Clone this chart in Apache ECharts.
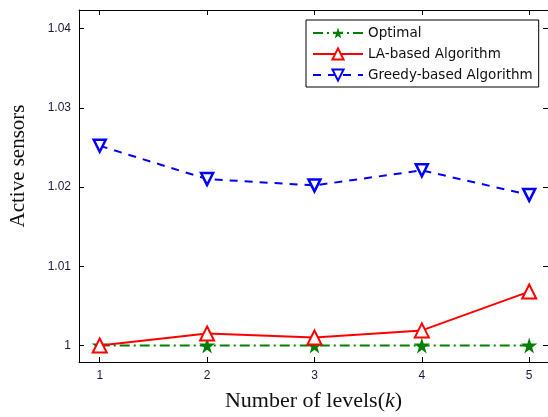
<!DOCTYPE html>
<html>
<head>
<meta charset="utf-8">
<script src="https://cdn.jsdelivr.net/npm/echarts@6/dist/echarts.min.js"></script>
<style>
  html, body { margin: 0; padding: 0; background: #fff; }
  #main { width: 548px; height: 417px; }
</style>
</head>
<body>
<div id="main"></div>
<script>
// levels k
var levels = [1, 2, 3, 4, 5];
var optimal = [1, 1, 1, 1, 1];
var laBased = [1.0, 1.0015, 1.001, 1.0019, 1.0068];
var greedyBased = [1.0252, 1.021, 1.0202, 1.0221, 1.019];
var yTicks = [1, 1.01, 1.02, 1.03, 1.04];
var yTickLabels = ['1', '1.01', '1.02', '1.03', '1.04'];

var starPath = 'path://M50,0 L61,35 L98,35 L68,57 L79,91 L50,70 L21,91 L32,57 L2,35 L39,35 Z';

function pairs(ys) {
  return levels.map(function (x, i) { return [x, ys[i]]; });
}

var chart = echarts.init(document.getElementById('main'));

var xMin = 0.807, xMax = 5.175;
var yMin = 0.99791, yMax = 1.04234;

var option = {
  backgroundColor: '#fff',
  animation: false,
  grid: { left: 73, right: 0, top: 10, bottom: 46 },
  legend: {
    orient: 'vertical',
    left: 306,
    top: 20,
    itemWidth: 50,
    itemHeight: 14,
    itemGap: 7,
    padding: [6, 6, 5, 6],
    borderColor: '#000',
    borderWidth: 1,
    backgroundColor: '#fff',
    textStyle: { fontFamily: 'DejaVu Sans', fontSize: 13.5, color: '#111' },
    data: ['Optimal', 'LA-based Algorithm', 'Greedy-based Algorithm']
  },
  xAxis: [{
    type: 'value',
    min: xMin, max: xMax,
    name: 'Number of levels({k|k})',
    nameLocation: 'middle',
    nameGap: 28,
    nameTextStyle: {
      fontFamily: 'Liberation Serif', fontSize: 22, color: '#111',
      rich: { k: { fontFamily: 'Liberation Serif', fontStyle: 'italic', fontSize: 22, color: '#111' } }
    },
    axisLine: { lineStyle: { color: '#000', width: 1 } },
    axisTick: { inside: true, length: 5, customValues: levels, lineStyle: { color: '#000' } },
    axisLabel: { customValues: levels, fontFamily: 'Liberation Sans', fontSize: 12, color: '#1a1a3a', margin: 8 },
    splitLine: { show: false }
  }, {
    type: 'value',
    position: 'top',
    min: xMin, max: xMax,
    axisLine: { lineStyle: { color: '#000', width: 1 } },
    axisTick: { inside: true, length: 5, customValues: levels, lineStyle: { color: '#000' } },
    axisLabel: { show: false },
    splitLine: { show: false }
  }],
  yAxis: [{
    type: 'value',
    min: yMin, max: yMax,
    name: 'Active sensors',
    nameLocation: 'middle',
    nameGap: 50,
    nameTextStyle: { fontFamily: 'Liberation Serif', fontSize: 21, color: '#111', padding: [0, 0, 0, 40] },
    axisLine: { show: true, lineStyle: { color: '#000', width: 1 } },
    axisTick: { inside: true, length: 5, customValues: yTicks, lineStyle: { color: '#000' } },
    axisLabel: {
      customValues: yTicks,
      fontFamily: 'Liberation Sans', fontSize: 12, color: '#1a1a3a', margin: 8,
      formatter: function (v) {
        var i = yTicks.findIndex(function (t) { return Math.abs(t - v) < 1e-9; });
        return i >= 0 ? yTickLabels[i] : '';
      }
    },
    splitLine: { show: false }
  }, {
    type: 'value',
    position: 'right',
    min: yMin, max: yMax,
    axisLine: { show: true, lineStyle: { color: '#000', width: 1 } },
    axisTick: { inside: true, length: 5, customValues: yTicks, lineStyle: { color: '#000' } },
    axisLabel: { show: false },
    splitLine: { show: false }
  }],
  series: [{
    name: 'Optimal',
    type: 'line',
    data: pairs(optimal),
    symbol: starPath,
    symbolSize: 16,
    itemStyle: { color: '#008000' },
    lineStyle: { color: '#008000', width: 2, type: [10, 4, 2, 4] },
    z: 3
  }, {
    name: 'LA-based Algorithm',
    type: 'line',
    data: pairs(laBased),
    symbol: 'triangle',
    symbolSize: 14,
    itemStyle: { color: '#fff', borderColor: '#ff0000', borderWidth: 2 },
    lineStyle: { color: '#ff0000', width: 2 },
    z: 4
  }, {
    name: 'Greedy-based Algorithm',
    type: 'line',
    data: pairs(greedyBased),
    symbol: 'triangle',
    symbolRotate: 180,
    symbolSize: 12,
    itemStyle: { color: '#fff', borderColor: '#0000ff', borderWidth: 2.5 },
    lineStyle: { color: '#0000ff', width: 2, type: [8, 7] },
    z: 4
  }]
};

chart.setOption(option);
</script>
</body>
</html>
